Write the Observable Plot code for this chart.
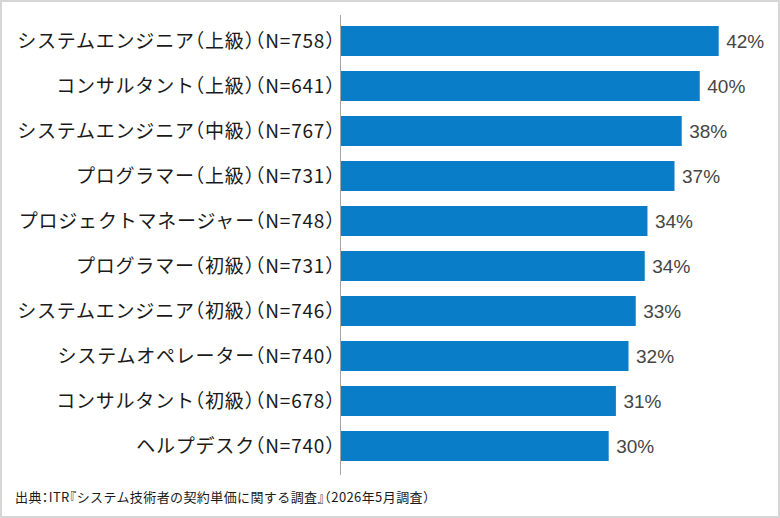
<!DOCTYPE html>
<html>
<head>
<meta charset="utf-8">
<script src="https://cdn.jsdelivr.net/npm/d3@7"></script>
<script src="https://cdn.jsdelivr.net/npm/@observablehq/plot@0.6"></script>
<style>
  html, body { margin: 0; padding: 0; background: #fff; }
  #wrap { position: relative; width: 780px; height: 518px; overflow: hidden; background: #fff; }
  #chart { position: absolute; left: 0; top: 0; }
  #chart svg text { font-feature-settings: "halt"; }
  #chart svg g[aria-label="y-axis tick label"] text { letter-spacing: 0.8px; }
  #caption { position: absolute; left: 15px; top: 487px; font-family: "Noto Sans CJK JP", sans-serif; font-size: 13px; letter-spacing: 0.4px; color: #1a1a1a; white-space: nowrap; font-feature-settings: "halt"; }
  #border { position: absolute; inset: 0; border: 2px solid #d6d6d6; pointer-events: none; }
</style>
</head>
<body>
<div id="wrap">
  <div id="chart"></div>
  <div id="caption"></div>
  <div id="border"></div>
</div>
<script>
const categories = [
  "システムエンジニア（上級）（N=758）",
  "コンサルタント（上級）（N=641）",
  "システムエンジニア（中級）（N=767）",
  "プログラマー（上級）（N=731）",
  "プロジェクトマネージャー（N=748）",
  "プログラマー（初級）（N=731）",
  "システムエンジニア（初級）（N=746）",
  "システムオペレーター（N=740）",
  "コンサルタント（初級）（N=678）",
  "ヘルプデスク（N=740）"
];
const values = [42.0, 39.9, 37.9, 37.1, 34.1, 33.8, 32.8, 32.0, 30.6, 29.8];
const valueLabels = ["42%", "40%", "38%", "37%", "34%", "34%", "33%", "32%", "31%", "30%"];
const captionText = "出典：ITR『システム技術者の契約単価に関する調査』（2026年5月調査）";

const data = categories.map((c, i) => ({ category: c, value: values[i], label: valueLabels[i] }));

const chart = Plot.plot({
  width: 780,
  height: 486,
  marginLeft: 340,
  marginRight: 0,
  marginTop: 15,
  marginBottom: 15,
  style: { fontFamily: "'Noto Sans CJK JP', sans-serif", background: "transparent" },
  x: { domain: [0, 48.8], axis: null },
  y: { domain: categories, paddingInner: 0.34, paddingOuter: 0.18, label: null },
  marks: [
    Plot.barX(data, { x: "value", y: "category", fill: "#0A7DC8" }),
    Plot.ruleX([0], { stroke: "#a6a6a6", strokeWidth: 1, insetBottom: -4 }),
    Plot.axisY({ tickSize: 0, tickPadding: 5, fontSize: 19, fill: "#1a1a1a", label: null, fontFamily: "'Noto Sans CJK JP', sans-serif" }),
    Plot.text(data, { x: "value", y: "category", text: "label", dx: 7, textAnchor: "start", fill: "#454545", fontSize: 19, fontFamily: "'Liberation Sans', Arial, sans-serif" })
  ]
});
document.getElementById("chart").appendChild(chart);
document.getElementById("caption").textContent = captionText;
</script>
</body>
</html>
